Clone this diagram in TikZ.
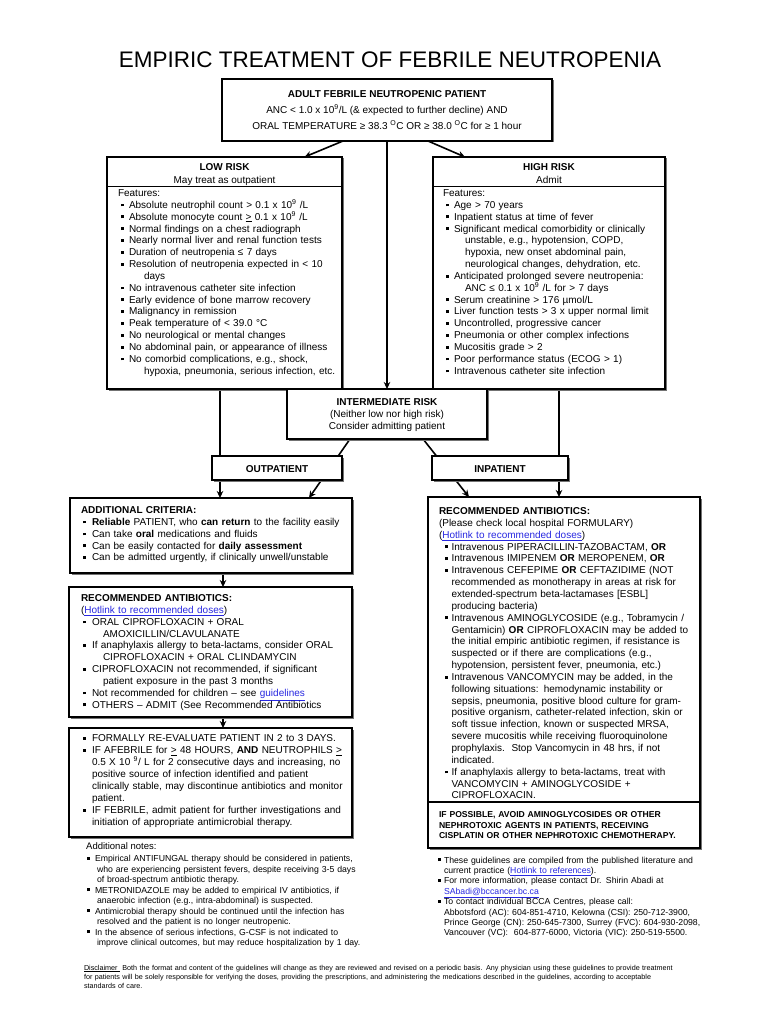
\documentclass[tikz,border=0pt]{standalone}
\usepackage{fontspec}
\setmainfont{Liberation Sans}
\usetikzlibrary{arrows.meta,calc,shadows}
\definecolor{linkblue}{RGB}{40,40,225}
\newcommand\bul[1][8pt]{\makebox[#1][l]{\raisebox{1.9pt}{\rule{2.8pt}{2.8pt}}}}
\newcommand\lnk[1]{\textcolor{linkblue}{\underline{#1}}}
\newcommand\fsn{\fontsize{10}{11.85}\selectfont}
\newcommand\fss{\fontsize{8.7}{10.5}\selectfont}
\pgfdeclarelayer{back}
\pgfdeclarelayer{bg}
\pgfsetlayers{back,bg,main}
\begin{document}
\begin{tikzpicture}[x=1pt,y=-1pt,
  box/.style={draw, line width=1.5pt, fill=white, inner sep=0pt, outer sep=0pt, anchor=north west,
    drop shadow={shadow xshift=1.5pt, shadow yshift=-1.5pt, fill=black!55, opacity=1}},
  txt/.style={anchor=base west, inner sep=0pt, outer sep=0pt, text width=330pt, align=left, font=\fsn},
  ctr/.style={anchor=base, inner sep=0pt, outer sep=0pt, font=\fsn},
  arr/.style={line width=1.6pt, -{Stealth[length=7pt,width=6.5pt]}}]
\begin{pgfonlayer}{back}
\fill[white] (0,0) rectangle (768,1024);
\end{pgfonlayer}
\useasboundingbox (0,0) rectangle (768,1024);

\node[anchor=base, inner sep=0pt, font=\fontsize{22.5}{27}\selectfont] (title) at (390,68) {EMPIRIC TREATMENT OF FEBRILE NEUTROPENIA};

% ---------- boxes ----------
\node[box, minimum width=330, minimum height=62] (top) at (222,79) {};
\node[box, minimum width=235, minimum height=232] (low) at (107,157) {};
\node[box, minimum width=232, minimum height=232] (high) at (433,157) {};
\node[box, minimum width=200, minimum height=50] (inter) at (287,389) {};
\node[box, minimum width=130, minimum height=24] (outp) at (212,456) {};
\node[box, minimum width=136, minimum height=24] (inp) at (432,456) {};
\node[box, minimum width=282, minimum height=75] (addl) at (70,498) {};
\node[box, line width=2.3pt, minimum width=283, minimum height=130] (recL) at (69,587) {};
\node[box, minimum width=283, minimum height=109] (evalb) at (69,728) {};
\node[box, minimum width=272, minimum height=351] (recR) at (428,497) {};

\draw[line width=1pt] (107,187) -- (342,187);
\draw[line width=1pt] (433,187) -- (665,187);
\draw[line width=1.5pt] (428,802) -- (700,802);

% ---------- connectors ----------
\coordinate (vL) at (220,0);
\coordinate (vR) at (559,0);
\coordinate (vA) at (223,0);
\begin{pgfonlayer}{bg}
\draw[arr] ($(top.south)+(-44,0)$) -- ($(low.north)+(80,0)$);
\draw[arr] (top.south) -- (inter.north);
\draw[arr] ($(top.south)+(41,0)$) -- ($(high.north)+(-84,0)$);
\draw[arr] (low.south -| vL) -- (addl.north -| vL);
\draw[arr] (high.south -| vR) -- (recR.north -| vR);
\draw[arr] ($(inter.south)+(-37,0)$) -- ($(addl.north)+(98,0)$);
\draw[arr] ($(inter.south)+(36,0)$) -- ($(recR.north)+(-95,0)$);
\draw[arr] (addl.south -| vA) -- (recL.north -| vA);
\draw[arr] (recL.south -| vA) -- (evalb.north -| vA);
\end{pgfonlayer}

% ---------- top box ----------
\node[ctr, font=\fsn\bfseries] (t1) at (387,97.5) {ADULT FEBRILE NEUTROPENIC PATIENT};
\node[ctr] (t2) at (387,113.5) {ANC < 1.0 x 10\textsuperscript{9}/L (\& expected to further decline) AND};
\node[ctr] (t3) at (387,129.5) {ORAL TEMPERATURE ≥ 38.3 \textsuperscript{O}C OR ≥ 38.0 \textsuperscript{O}C for ≥ 1 hour};

% ---------- low risk ----------
\node[ctr, font=\fsn\bfseries] (lh1) at (224.5,171) {LOW RISK};
\node[ctr] (lh2) at (224.5,183.5) {May treat as outpatient};
\node[txt] (ltx) at (121,196.5) {%
\hspace*{-3pt}Features:\\
\bul Absolute neutrophil count > 0.1 x 10\textsuperscript{9} /L\\
\bul Absolute monocyte count \underline{>} 0.1 x 10\textsuperscript{9} /L\\
\bul Normal findings on a chest radiograph\\
\bul Nearly normal liver and renal function tests\\
\bul Duration of neutropenia ≤ 7 days\\
\bul Resolution of neutropenia expected in < 10\\
\hspace*{23pt}days\\
\bul No intravenous catheter site infection\\
\bul Early evidence of bone marrow recovery\\
\bul Malignancy in remission\\
\bul Peak temperature of < 39.0 °C\\
\bul No neurological or mental changes\\
\bul No abdominal pain, or appearance of illness\\
\bul No comorbid complications, e.g., shock,\\
\hspace*{23pt}hypoxia, pneumonia, serious infection, etc.};

% ---------- high risk ----------
\node[ctr, font=\fsn\bfseries] (hh1) at (549,171) {HIGH RISK};
\node[ctr] (hh2) at (549,183.5) {Admit};
\node[txt] (htx) at (446,196.5) {%
\hspace*{-3pt}Features:\\
\bul Age > 70 years\\
\bul Inpatient status at time of fever\\
\bul Significant medical comorbidity or clinically\\
\hspace*{19pt}unstable, e.g., hypotension, COPD,\\
\hspace*{19pt}hypoxia, new onset abdominal pain,\\
\hspace*{19pt}neurological changes, dehydration, etc.\\
\bul Anticipated prolonged severe neutropenia:\\
\hspace*{19pt}ANC ≤ 0.1 x 10\textsuperscript{9} /L for > 7 days\\
\bul Serum creatinine > 176 µmol/L\\
\bul Liver function tests > 3 x upper normal limit\\
\bul Uncontrolled, progressive cancer\\
\bul Pneumonia or other complex infections\\
\bul Mucositis grade > 2\\
\bul Poor performance status (ECOG > 1)\\
\bul Intravenous catheter site infection};

% ---------- intermediate ----------
\node[ctr, font=\fsn\bfseries] (i1) at (387,405) {INTERMEDIATE RISK};
\node[ctr] (i2) at (387,417) {(Neither low nor high risk)};
\node[ctr] (i3) at (387,429) {Consider admitting patient};

\node[ctr, font=\fsn\bfseries] (o1) at (277,472) {OUTPATIENT};
\node[ctr, font=\fsn\bfseries] (p1) at (500,472) {INPATIENT};

% ---------- additional criteria ----------
\node[txt] (atx) at (83,513.5) {%
\hspace*{-2pt}\textbf{ADDITIONAL CRITERIA:}\\
\bul[9pt]\textbf{Reliable} PATIENT, who \textbf{can return} to the facility easily\\
\bul[9pt]Can take \textbf{oral} medications and fluids\\
\bul[9pt]Can be easily contacted for \textbf{daily assessment}\\
\bul[9pt]Can be admitted urgently, if clinically unwell/unstable};

% ---------- recommended (outpatient) ----------
\node[txt] (rltx) at (83,601.5) {%
\hspace*{-2pt}\textbf{RECOMMENDED ANTIBIOTICS:}\\
\hspace*{-2pt}(\lnk{Hotlink to recommended doses})\\
\bul[9pt]ORAL CIPROFLOXACIN + ORAL\\
\hspace*{20pt}AMOXICILLIN/CLAVULANATE\\
\bul[9pt]If anaphylaxis allergy to beta-lactams, consider ORAL\\
\hspace*{20pt}CIPROFLOXACIN + ORAL CLINDAMYCIN\\
\bul[9pt]CIPROFLOXACIN not recommended, if significant\\
\hspace*{20pt}patient exposure in the past 3 months\\
\bul[9pt]Not recommended for children – see \lnk{guidelines}\\
\bul[9pt]OTHERS – ADMIT (See Recommended Antibiotics};

% ---------- re-evaluate ----------
\node[txt, font=\fontsize{10}{12}\selectfont] (etx) at (83,741.5) {%
\bul[9pt]FORMALLY RE-EVALUATE PATIENT IN 2 to 3 DAYS.\\
\bul[9pt]IF AFEBRILE for \underline{>} 48 HOURS, \textbf{AND} NEUTROPHILS \underline{>}\\
\hspace*{9pt}0.5 X 10 \textsuperscript{9}/ L for 2 consecutive days and increasing, no\\
\hspace*{9pt}positive source of infection identified and patient\\
\hspace*{9pt}clinically stable, may discontinue antibiotics and monitor\\
\hspace*{9pt}patient.\\
\bul[9pt]IF FEBRILE, admit patient for further investigations and\\
\hspace*{9pt}initiation of appropriate antimicrobial therapy.};

% ---------- additional notes ----------
\node[anchor=base west, inner sep=0pt, font=\fontsize{9.5}{11}\selectfont] (an) at (86,849.5) {Additional notes:};
\node[txt, font=\fss] (antx) at (87,861.5) {%
\bul Empirical ANTIFUNGAL therapy should be considered in patients,\\
\hspace*{10pt}who are experiencing persistent fevers, despite receiving 3-5 days\\
\hspace*{10pt}of broad-spectrum antibiotic therapy.\\
\bul METRONIDAZOLE may be added to empirical IV antibiotics, if\\
\hspace*{10pt}anaerobic infection (e.g., intra-abdominal) is suspected.\\
\bul Antimicrobial therapy should be continued until the infection has\\
\hspace*{10pt}resolved and the patient is no longer neutropenic.\\
\bul In the absence of serious infections, G-CSF is not indicated to\\
\hspace*{10pt}improve clinical outcomes, but may reduce hospitalization by 1 day.};

% ---------- recommended (inpatient) ----------
\node[txt] (rrtx) at (445,514.5) {%
\hspace*{-6pt}\textbf{RECOMMENDED ANTIBIOTICS:}\\
\hspace*{-6pt}(Please check local hospital FORMULARY)\\
\hspace*{-6pt}(\lnk{Hotlink to recommended doses})\\
\bul[6.5pt]Intravenous PIPERACILLIN-TAZOBACTAM, \textbf{OR}\\
\bul[6.5pt]Intravenous IMIPENEM \textbf{OR} MEROPENEM, \textbf{OR}\\
\bul[6.5pt]Intravenous CEFEPIME \textbf{OR} CEFTAZIDIME (NOT\\
\hspace*{6.5pt}recommended as monotherapy in areas at risk for\\
\hspace*{6.5pt}extended-spectrum beta-lactamases [ESBL]\\
\hspace*{6.5pt}producing bacteria)\\
\bul[6.5pt]Intravenous AMINOGLYCOSIDE (e.g., Tobramycin /\\
\hspace*{6.5pt}Gentamicin) \textbf{OR} CIPROFLOXACIN may be added to\\
\hspace*{6.5pt}the initial empiric antibiotic regimen, if resistance is\\
\hspace*{6.5pt}suspected or if there are complications (e.g.,\\
\hspace*{6.5pt}hypotension, persistent fever, pneumonia, etc.)\\
\bul[6.5pt]Intravenous VANCOMYCIN may be added, in the\\
\hspace*{6.5pt}following situations: hemodynamic instability or\\
\hspace*{6.5pt}sepsis, pneumonia, positive blood culture for gram-\\
\hspace*{6.5pt}positive organism, catheter-related infection, skin or\\
\hspace*{6.5pt}soft tissue infection, known or suspected MRSA,\\
\hspace*{6.5pt}severe mucositis while receiving fluoroquinolone\\
\hspace*{6.5pt}prophylaxis.\ \ Stop Vancomycin in 48 hrs, if not\\
\hspace*{6.5pt}indicated.\\
\bul[6.5pt]If anaphylaxis allergy to beta-lactams, treat with\\
\hspace*{6.5pt}VANCOMYCIN + AMINOGLYCOSIDE +\\
\hspace*{6.5pt}CIPROFLOXACIN.};
\node[txt, font=\fontsize{8.6}{10.7}\selectfont\bfseries] (nephro) at (439,817.5) {%
IF POSSIBLE, AVOID AMINOGLYCOSIDES OR OTHER\\
NEPHROTOXIC AGENTS IN PATIENTS, RECEIVING\\
CISPLATIN OR OTHER NEPHROTOXIC CHEMOTHERAPY.};

% ---------- right notes ----------
\node[txt, font=\fontsize{8.7}{10.4}\selectfont] (rntx) at (438,863) {%
\bul[6pt]These guidelines are compiled from the published literature and\\
\hspace*{6pt}current practice (\lnk{Hotlink to references}).\\
\bul[6pt]For more information, please contact Dr. Shirin Abadi at\\
\hspace*{6pt}\lnk{SAbadi@bccancer.bc.ca}\\
\bul[6pt]To contact individual BCCA Centres, please call:\\
\hspace*{6pt}Abbotsford (AC): 604-851-4710, Kelowna (CSI): 250-712-3900,\\
\hspace*{6pt}Prince George (CN): 250-645-7300, Surrey (FVC): 604-930-2098,\\
\hspace*{6pt}Vancouver (VC):\ \ 604-877-6000, Victoria (VIC): 250-519-5500.};

% ---------- disclaimer ----------
\node[txt, text width=700pt, font=\fontsize{7.2}{9}\selectfont] (disc) at (84,970) {%
\underline{Disclaimer\ }\ Both the format and content of the guidelines will change as they are reviewed and revised on a periodic basis. Any physician using these guidelines to provide treatment\\
for patients will be solely responsible for verifying the doses, providing the prescriptions, and administering the medications described in the guidelines, according to acceptable\\
standards of care.};
\end{tikzpicture}
\end{document}
